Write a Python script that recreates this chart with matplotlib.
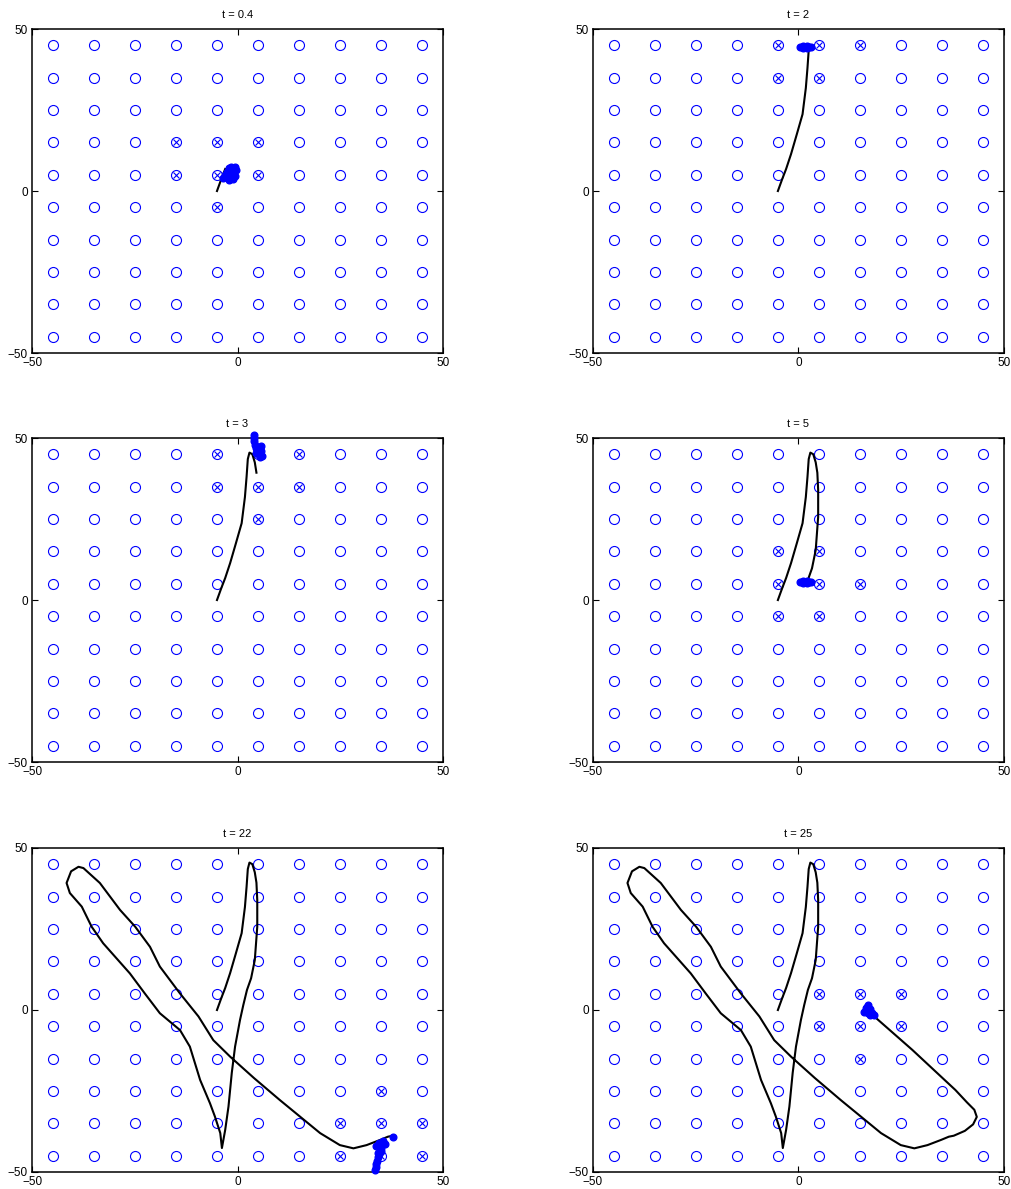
import numpy as np
import matplotlib.pyplot as plt

plt.rcParams['font.family'] = ['Liberation Sans', 'DejaVu Sans']
plt.rcParams['axes.unicode_minus'] = True

# beacon grid (same in every frame)
grid_vals = np.arange(-45, 50, 10)

# frame times
times = ['0.4', '2', '3', '5', '22', '25']

# true trajectory
path_x = [-5.0, -4.0, -3.0, -1.8, -0.4, 1.0, 1.8, 2.2, 2.5, 2.9,
          3.6, 4.2, 4.6, 4.8, 4.8, 4.2, 3.3, 2.3, 1.4, 0.6,
          -0.6, -1.4, -2.2, -3.0, -3.8, -4.2, -5.5, -6.7, -9.1, -11.6,
          -14.0, -18.9, -22.5, -26.2, -32.7, -35.5, -37.9, -40.8, -41.6, -40.5,
          -38.7, -37.5, -35.5, -33.5, -28.6, -24.9, -21.3, -18.9, -14.0, -9.5,
          -5.9, -1.8, 4.0, 10.3, 15.2, 20.1, 24.9, 28.2, 31.4, 34.7,
          36.6, 37.8, 40.5, 42.5, 43.4, 42.8, 41.0, 38.2, 27.7, 18.0,
          17.1]
path_y = [0.0, 3.5, 6.8, 11.4, 17.5, 23.7, 31.8, 38.0, 43.5, 45.5,
          45.0, 42.5, 39.3, 33.9, 25.7, 15.4, 9.8, 6.2, 1.5, -3.1,
          -11.3, -19.4, -29.8, -37.0, -42.6, -38.0, -32.9, -28.8, -21.6, -11.3,
          -6.2, -1.0, 5.0, 11.3, 20.6, 25.7, 31.9, 36.1, 39.2, 42.8,
          44.2, 43.8, 41.5, 39.2, 30.9, 25.7, 19.5, 13.4, 5.1, -2.0,
          -9.3, -14.4, -21.0, -27.8, -32.9, -38.0, -41.7, -42.7, -41.7, -40.1,
          -39.1, -38.8, -37.3, -35.3, -33.0, -30.8, -28.5, -24.7, -12.3, -1.5,
          -0.5]
# last path index reached in each frame
path_end = [2, 8, 12, 17, 61, 70]

# beacons in range (drawn with a cross)
crossed_t04 = [(-15, 15), (-5, 15), (5, 15), (-15, 5), (-5, 5), (5, 5), (-5, -5)]
crossed_t2 = [(-5, 45), (5, 45), (15, 45), (-5, 35), (5, 35)]
crossed_t3 = [(-5, 45), (5, 45), (15, 45), (-5, 35), (5, 35), (15, 35), (5, 25)]
crossed_t5 = [(-5, 15), (5, 15), (-5, 5), (5, 5), (15, 5), (-5, -5), (5, -5)]
crossed_t22 = [(35, -25), (25, -35), (35, -35), (45, -35), (25, -45), (35, -45), (45, -45)]
crossed_t25 = [(5, 5), (15, 5), (25, 5), (5, -5), (15, -5), (25, -5), (15, -15)]

# particle positions
parts_t04_x = [-3.5, -3.0, -2.5, -2.0, -1.5, -1.0, -0.5, -0.3, -1.0, -1.5, -2.0, -1.0, -0.5, -2.8, -2.2]
parts_t04_y = [4.0, 5.0, 6.0, 7.0, 7.5, 7.0, 7.5, 6.5, 5.5, 4.5, 3.5, 3.8, 4.5, 4.2, 5.2]
parts_t2_x = [0.5, 1.0, 1.5, 2.0, 2.5, 3.0, 1.2, 2.2]
parts_t2_y = [44.5, 44.8, 44.5, 44.8, 44.5, 44.6, 44.2, 44.2]
parts_t3_x = [4.0, 4.0, 4.1, 4.2, 4.4, 4.8, 5.5, 5.8, 5.2, 5.5, 6.0, 4.6, 5.8]
parts_t3_y = [51.0, 50.0, 49.0, 48.0, 47.0, 46.5, 46.8, 46.0, 45.0, 44.0, 44.5, 45.5, 47.5]
parts_t5_x = [0.5, 1.0, 1.5, 2.0, 2.5, 3.0, 1.2, 2.2]
parts_t5_y = [5.5, 5.8, 5.5, 5.8, 5.5, 5.7, 5.2, 5.2]
parts_t22_x = [37.9, 35.5, 34.5, 36.0, 33.8, 35.0, 34.8, 34.5, 34.3, 34.0, 33.8, 33.6, 33.5, 34.2]
parts_t22_y = [-39.1, -40.5, -41.0, -41.5, -42.0, -42.5, -43.5, -44.5, -45.5, -46.5, -47.5, -48.5, -49.5, -44.0]
parts_t25_x = [17.0, 16.5, 17.5, 16.0, 17.0, 18.0, 17.5, 18.5, 16.6]
parts_t25_y = [1.5, 0.5, 0.3, -0.5, -0.8, -0.8, -1.5, -1.5, 0.8]

crossed_sets = [crossed_t04, crossed_t2, crossed_t3, crossed_t5, crossed_t22, crossed_t25]
particles = [(parts_t04_x, parts_t04_y), (parts_t2_x, parts_t2_y), (parts_t3_x, parts_t3_y),
             (parts_t5_x, parts_t5_y), (parts_t22_x, parts_t22_y), (parts_t25_x, parts_t25_y)]

fig = plt.figure(figsize=(10.11, 11.89), dpi=100)

lefts = [0.0317, 0.5865]
bottoms = [0.7031, 0.3591, 0.0143]
w, h = 0.4065, 0.2725

gx, gy = np.meshgrid(grid_vals, grid_vals)

for i, t in enumerate(times):
    ax = fig.add_axes([lefts[i % 2], bottoms[i // 2], w, h])
    ax.plot(gx.ravel(), gy.ravel(), 'o', ls='none', mfc='none', mec='#0000ff',
            ms=7.2, mew=0.8)
    cx = [p[0] for p in crossed_sets[i]]
    cy = [p[1] for p in crossed_sets[i]]
    ax.plot(cx, cy, 'x', ls='none', color='#0000ff', ms=4.2, mew=0.8)

    n = path_end[i] + 1
    ax.plot(path_x[:n], path_y[:n], '-', color='black', lw=1.5)

    px, py = particles[i]
    ax.plot(px, py, 'o', ls='none', color='#0000ff', ms=4.8, clip_on=False, zorder=5)

    ax.set_xlim(-50, 50)
    ax.set_ylim(-50, 50)
    ax.set_xticks([-50, 0, 50])
    ax.set_yticks([-50, 0, 50])
    ax.tick_params(direction='in', length=4, width=0.8, top=True, right=True,
                   labelsize=8.5, pad=3)
    for s in ax.spines.values():
        s.set_linewidth(1.1)
    ax.set_title('t = ' + t, fontsize=8, pad=8)

fig.savefig('out.png', dpi=100)
